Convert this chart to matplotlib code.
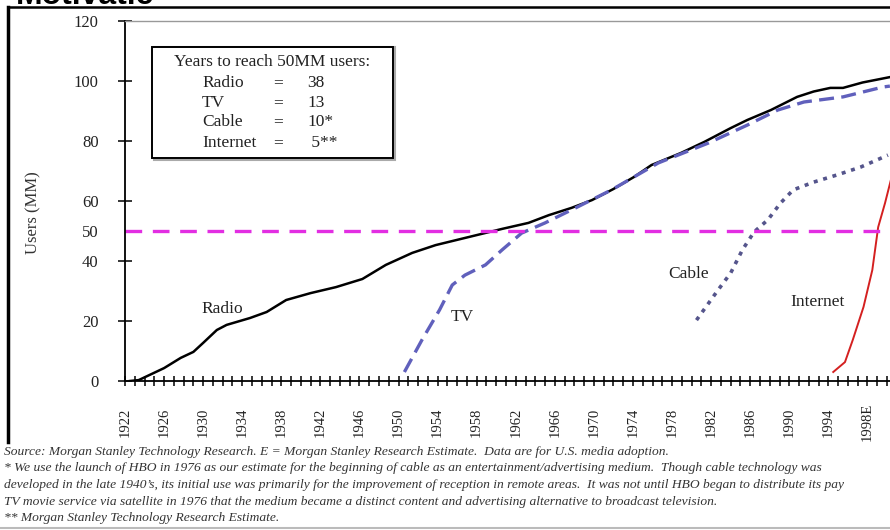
import matplotlib.pyplot as plt
from matplotlib.patches import Rectangle

# --- data (users in millions) ---
radio_years = [1922.5, 1923.4, 1926.0, 1927.7, 1929.0, 1930.0, 1931.4, 1932.4, 1934.8, 1936.5,
               1938.5, 1941.0, 1943.6, 1946.3, 1948.7, 1951.4, 1953.8, 1957.2, 1960.6, 1963.3,
               1965.4, 1967.7, 1969.8, 1972.0, 1974.1, 1975.9, 1978.9, 1981.3, 1984.0, 1985.7,
               1988.1, 1990.8, 1992.5, 1994.2, 1995.5, 1997.5, 2000.3]
radio_users = [0.0, 0.3, 4.3, 7.7, 9.7, 12.7, 17.0, 18.7, 21.0, 23.0,
               27.0, 29.3, 31.3, 34.0, 38.7, 42.7, 45.3, 48.0, 50.7, 52.7,
               55.3, 57.7, 60.3, 64.0, 68.0, 72.0, 76.0, 79.7, 84.3, 87.0,
               90.3, 94.7, 96.5, 97.7, 97.7, 99.5, 101.3]

tv_years = [1950.6, 1952.4, 1954.2, 1955.5, 1956.8, 1958.9, 1960.6, 1962.6, 1965.0, 1968.0,
            1971.8, 1976.6, 1981.7, 1985.7, 1988.8, 1991.5, 1995.5, 1999.6, 2000.3]
tv_users = [3.0, 13.7, 23.7, 32.0, 35.3, 38.7, 43.7, 49.3, 52.7, 57.5,
            63.7, 72.7, 79.3, 85.3, 90.3, 93.0, 94.7, 98.0, 98.3]

cable_years = [1980.5, 1982.7, 1984.0, 1985.2, 1986.4, 1987.8, 1989.1, 1990.4, 1992.5,
               1994.9, 1997.3, 2000.1]
cable_users = [20.3, 30.3, 36.0, 43.7, 49.7, 53.7, 59.3, 63.7, 66.3, 68.7, 71.3, 75.3]

internet_years = [1994.5, 1995.7, 1996.5, 1997.6, 1998.5, 1999.1, 1999.8, 2000.4]
internet_users = [3.0, 6.3, 13.7, 24.7, 37.0, 51.3, 59.3, 67.0]

target = 50
tick_years = list(range(1922, 1998, 4)) + [1998]
tick_labels = [str(y) for y in range(1922, 1998, 4)] + ['1998E']

box_names = ['Radio', 'TV', 'Cable', 'Internet']
box_values = ['38', '13', '10*', ' 5**']

footnotes = [
    "Source: Morgan Stanley Technology Research. E = Morgan Stanley Research Estimate.  Data are for U.S. media adoption.",
    "* We use the launch of HBO in 1976 as our estimate for the beginning of cable as an entertainment/advertising medium.  Though cable technology was",
    "developed in the late 1940\u2019s, its initial use was primarily for the improvement of reception in remote areas.  It was not until HBO began to distribute its pay",
    "TV movie service via satellite in 1976 that the medium became a distinct content and advertising alternative to broadcast television.",
    "** Morgan Stanley Technology Research Estimate.",
]

W, H = 890, 530
SERIF = 'Liberation Serif'


def fx(x):
    return x / W


def fy(y):
    return 1 - y / H


fig = plt.figure(figsize=(8.9, 5.3), dpi=100)
fig.patch.set_facecolor('white')

ax = fig.add_axes([fx(125), fy(381), fx(765), 360 / H])
ax.plot(radio_years, radio_users, color='black', lw=1.8)
ax.plot(tv_years, tv_users, color='#6060bc', lw=2.4, ls=(0, (4.5, 2.2)))
ax.plot(cable_years, cable_users, color='#55558c', lw=2.6, ls=(0, (1.1, 1.6)))
ax.plot(internet_years, internet_users, color='#d42020', lw=1.4)
ax.axhline(target, color='#e22ee2', lw=2.4, ls=(0, (5, 3.2)))

ax.set_xlim(1922.41, 2000.31)
ax.set_ylim(0, 120)

ax.set_xticks(tick_years)
ax.set_xticklabels(tick_labels, rotation=90, family=SERIF, fontsize=10.5, color='#222222')
ax.set_xticks(range(1923, 2001), minor=True)
ax.tick_params(axis='x', which='both', direction='inout', length=7, width=1.1, pad=26)
for lbl in ax.get_xticklabels():
    lbl.set_va('center')

ax.set_yticks([0, 20, 40, 50, 60, 80, 100, 120])
ax.set_yticklabels(['0', '20', '40', '50', '60', '80', '100', '120'],
                   family=SERIF, fontsize=12, color='#222222')
ax.tick_params(axis='y', direction='inout', length=10, width=1.1, pad=14)
ax.yaxis.get_major_ticks()[3].tick1line.set_visible(False)

ax.spines['right'].set_visible(False)
ax.spines['top'].set_color('#999999')
ax.spines['top'].set_linewidth(1.0)
ax.spines['left'].set_linewidth(1.3)
ax.spines['bottom'].set_linewidth(1.3)

fig.text(fx(33), fy(213), 'Users (MM)', rotation=90, ha='center', va='center',
         family=SERIF, fontsize=12, color='#333333')

# series labels
lab = dict(family=SERIF, fontsize=12.5, color='#222222', ha='center', va='center')
fig.text(fx(222), fy(309), 'Radio', **lab)
fig.text(fx(462), fy(317), 'TV', **lab)
fig.text(fx(689), fy(274), 'Cable', **lab)
fig.text(fx(818), fy(302), 'Internet', **lab)

# box with years to reach 50MM
fig.patches.append(Rectangle((fx(154), fy(160)), fx(241), 113 / H, transform=fig.transFigure,
                             facecolor='none', edgecolor='#aaaaaa', lw=1.5))
fig.patches.append(Rectangle((fx(152), fy(158)), fx(241), 111 / H, transform=fig.transFigure,
                             facecolor='white', edgecolor='black', lw=1.4))
box = dict(family=SERIF, fontsize=12.5, color='#222222', va='center')
fig.text(fx(272), fy(62), 'Years to reach 50MM users:', ha='center', **box)
rows_y = [83, 103, 122, 143]
for name, val, yy in zip(box_names, box_values, rows_y):
    fig.text(fx(202), fy(yy), name, ha='left', **box)
    fig.text(fx(278), fy(yy), '=', ha='center', **box)
    fig.text(fx(307), fy(yy), val, ha='left', **box)

# footnotes
for line, yy in zip(footnotes, [452, 468, 485, 502, 518]):
    fig.text(fx(4), fy(yy), line, ha='left', va='center', family=SERIF, style='italic',
             fontsize=9.7, color='#333333')

# slide frame and cut-off title
fig.add_artist(plt.Line2D([fx(8), fx(8)], [fy(7), fy(442)], transform=fig.transFigure,
                          color='black', lw=2.5))
fig.add_artist(plt.Line2D([fx(8), 1], [fy(7), fy(7)], transform=fig.transFigure,
                          color='black', lw=1.8))
fig.add_artist(plt.Line2D([0, 1], [fy(528), fy(528)], transform=fig.transFigure,
                          color='#bbbbbb', lw=1.5))
fig.text(fx(16), fy(4), 'Motivatie', ha='left', va='baseline', family='Liberation Sans',
         weight='bold', fontsize=23, color='black')

fig.savefig('out.png', dpi=100)
